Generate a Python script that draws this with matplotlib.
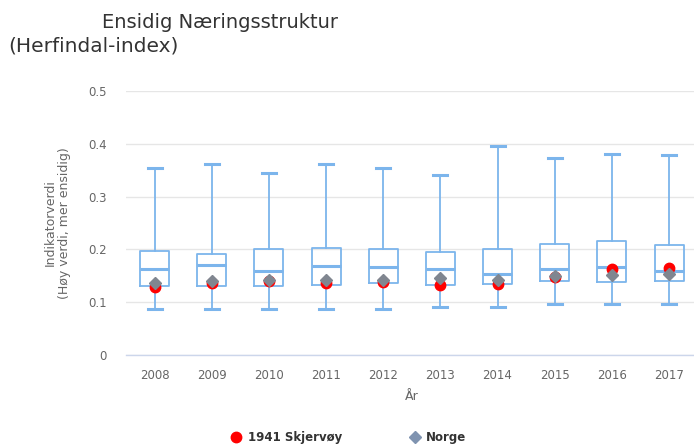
import matplotlib
matplotlib.use("Agg")
import matplotlib.pyplot as plt
from matplotlib.lines import Line2D

years = ["2008", "2009", "2010", "2011", "2012", "2013", "2014", "2015", "2016", "2017"]
whisker_low = [0.087, 0.088, 0.088, 0.088, 0.088, 0.090, 0.090, 0.097, 0.097, 0.097]
q1 = [0.131, 0.131, 0.131, 0.133, 0.136, 0.133, 0.134, 0.141, 0.138, 0.141]
median = [0.162, 0.171, 0.160, 0.169, 0.167, 0.162, 0.153, 0.162, 0.167, 0.160]
q3 = [0.197, 0.192, 0.201, 0.203, 0.201, 0.196, 0.201, 0.211, 0.216, 0.208]
whisker_high = [0.355, 0.362, 0.345, 0.362, 0.354, 0.341, 0.395, 0.374, 0.381, 0.379]
skjervoy = [0.129, 0.136, 0.140, 0.137, 0.139, 0.133, 0.134, 0.148, 0.163, 0.165]
norge = [0.137, 0.141, 0.142, 0.142, 0.142, 0.145, 0.142, 0.150, 0.151, 0.153]

box_color = "#7cb5ec"
text_gray = "#666666"

fig = plt.figure(figsize=(6.94, 4.47), dpi=100)
ax = fig.add_axes([126 / 694, 1 - 355 / 447, (697.6 - 126) / 694, (355 - 91) / 447])

stats = []
for i, y in enumerate(years):
    stats.append(dict(whislo=whisker_low[i], q1=q1[i], med=median[i], q3=q3[i],
                      whishi=whisker_high[i], label=y))
pos = list(range(len(years)))
ax.bxp(stats, positions=pos, widths=0.507, capwidths=0.245, showfliers=False,
       boxprops=dict(color=box_color, linewidth=1.3),
       whiskerprops=dict(color=box_color, linewidth=1.3),
       capprops=dict(color=box_color, linewidth=2.2),
       medianprops=dict(color=box_color, linewidth=2.2), zorder=2)

ax.plot(pos, skjervoy, linestyle="none", marker="o", markersize=7.5,
        color="#ff0000", zorder=3)
ax.plot(pos, norge, linestyle="none", marker="D", markersize=6,
        color="#808690", zorder=4)

ax.set_xlim(-0.5, len(years) - 0.5)
ax.set_ylim(0, 0.5)
ax.set_yticks([0, 0.1, 0.2, 0.3, 0.4, 0.5])
ax.set_yticklabels(["0", "0.1", "0.2", "0.3", "0.4", "0.5"])
ax.set_xticks(pos)
ax.set_xticklabels(years)
ax.tick_params(axis="y", length=0, pad=14, labelsize=8.5, labelcolor=text_gray)
ax.tick_params(axis="x", length=0, pad=10, labelsize=8.5, labelcolor=text_gray)
ax.grid(axis="y", color="#e6e6e6", linewidth=1)
ax.set_axisbelow(True)
for s in ["top", "right", "left"]:
    ax.spines[s].set_visible(False)
ax.spines["bottom"].set_color("#ccd6eb")
ax.spines["bottom"].set_linewidth(1)

ax.set_xlabel("År", fontsize=9, color=text_gray, labelpad=6)
ax.set_ylabel("Indikatorverdi\n(Høy verdi, mer ensidig)", fontsize=9,
              color=text_gray, labelpad=12)

fig.text(102 / 694, 1 - 22 / 447, "Ensidig Næringsstruktur", fontsize=14,
         color="#333333", va="center", ha="left")
fig.text(8 / 694, 1 - 46 / 447, "(Herfindal-index)", fontsize=14.5,
         color="#333333", va="center", ha="left")

handles = [Line2D([], [], linestyle="none", marker="o", markersize=7.5, color="#ff0000"),
           Line2D([], [], linestyle="none", marker="D", markersize=6, color="#7f93b0")]
leg = fig.legend(handles, ["1941 Skjervøy", "Norge"], loc="center",
                 bbox_to_anchor=(348 / 694, 1 - 438 / 447), ncol=2, frameon=False,
                 prop=dict(weight="bold", size=8.5), handletextpad=0.4,
                 columnspacing=5.5, handlelength=1.2)
for t in leg.get_texts():
    t.set_color("#333333")

fig.savefig("out.png", dpi=100)
